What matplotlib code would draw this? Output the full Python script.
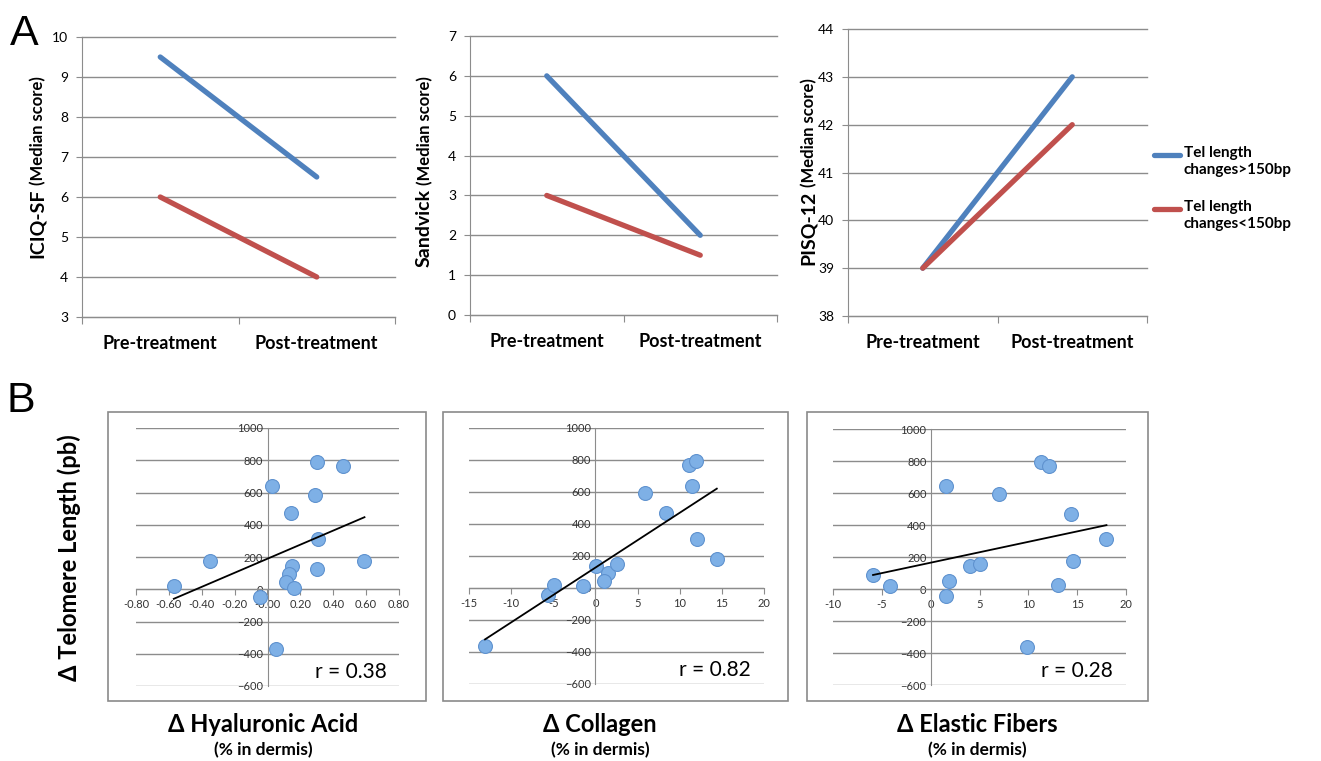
import numpy as np
import matplotlib
matplotlib.use("Agg")
import matplotlib.pyplot as plt
from matplotlib.patches import Rectangle
from matplotlib.lines import Line2D

plt.rcParams["font.family"] = ["Lato", "DejaVu Sans"]

# Panel A data (median scores)
categories = ["Pre-treatment", "Post-treatment"]
iciq_hi = [9.5, 6.5]
iciq_lo = [6.0, 4.0]
sandvick_hi = [6.0, 2.0]
sandvick_lo = [3.0, 1.5]
pisq_hi = [39.0, 43.0]
pisq_lo = [39.0, 42.0]
legend_labels = ["Tel length\nchanges>150bp", "Tel length\nchanges<150bp"]

# Panel B data
ha_x = [-0.57, -0.35, -0.045, 0.03, 0.30, 0.46, 0.29, 0.14, 0.31, 0.59, 0.30, 0.15, 0.13, 0.11, 0.16, 0.05]
ha_y = [20, 177, -51, 641, 787, 762, 585, 472, 310, 177, 127, 144, 94, 45, 5, -368]
col_x = [-13.1, -5.6, -4.9, -1.5, 0.1, 1.5, 1.0, 2.6, 5.9, 8.4, 11.1, 11.9, 11.5, 12.0, 14.4]
col_y = [-361, -42, 21, 10, 136, 94, 46, 152, 595, 470, 766, 793, 637, 307, 184]
ef_x = [-5.9, -4.2, 1.6, 1.9, 1.6, 4.0, 5.0, 7.0, 9.9, 11.3, 12.1, 13.0, 14.4, 14.6, 18.0]
ef_y = [86, 17, -41, 52, 646, 141, 155, 594, -362, 791, 766, 25, 466, 176, 315]
r_values = ["r = 0.38", "r = 0.82", "r = 0.28"]
b_titles = ["\u0394 Hyaluronic Acid", "\u0394 Collagen", "\u0394 Elastic Fibers"]
b_xticks = [np.arange(-0.8, 0.81, 0.2), np.arange(-15, 21, 5), np.arange(-10, 21, 5)]

BLUE = "#4f81bd"
RED = "#c0504d"
GRID = "#8c8c8c"
W, H = 1321, 761

fig = plt.figure(figsize=(13.21, 7.61), dpi=100)


def fx(px):
    return px / W


def fy(py):
    return 1 - py / H


def add_ax(l, t, r, b):
    return fig.add_axes([fx(l), fy(b), fx(r - l), fy(t) - fy(b)])


# ---------- Panel A ----------
def line_panel(ax, hi, lo, ylim):
    xpos = [0.5, 1.5]
    ax.plot(xpos, hi, color=BLUE, lw=3.8, solid_capstyle="round")
    ax.plot(xpos, lo, color=RED, lw=3.8, solid_capstyle="round")
    ax.set_xlim(0, 2)
    ax.set_ylim(*ylim)
    ax.set_yticks(np.arange(ylim[0], ylim[1] + 1, 1))
    ax.yaxis.grid(True, color=GRID, lw=1)
    for gl in ax.get_ygridlines():
        gl.set_clip_on(False)
    ax.set_axisbelow(True)
    for s in ["top", "right"]:
        ax.spines[s].set_visible(False)
    for s in ["left", "bottom"]:
        ax.spines[s].set_color(GRID)
    ax.set_xticks([0, 1, 2])
    ax.set_xticklabels([])
    ax.set_xticks(xpos, minor=True)
    ax.set_xticklabels(categories, minor=True, fontsize=13, fontweight="bold")
    ax.tick_params(axis="x", which="major", length=5, color=GRID, direction="out")
    ax.tick_params(axis="x", which="minor", length=0, pad=13)
    ax.tick_params(axis="y", length=4, color=GRID, labelsize=10, pad=6)


ax1 = add_ax(82, 37, 395, 317)
line_panel(ax1, iciq_hi, iciq_lo, (3, 10))
ax2 = add_ax(470, 36, 777, 315)
line_panel(ax2, sandvick_hi, sandvick_lo, (0, 7))
ax3 = add_ax(848, 29, 1147, 316)
line_panel(ax3, pisq_hi, pisq_lo, (38, 44))


def ylab(main, x, ybottom):
    t = fig.text(fx(x), fy(ybottom), main, rotation=90, ha="center", va="bottom",
                 fontsize=14, fontweight="bold")
    fig.canvas.draw()
    bb = t.get_window_extent()
    ytop = bb.y1 / fig.bbox.height
    fig.text(fx(x + 1), ytop + 0.005, "(Median score)", rotation=90, ha="center",
             va="bottom", fontsize=12, fontweight="bold")


ylab("ICIQ-SF", 37, 258)
ylab("Sandvick", 424, 267)
ylab("PISQ-12", 808, 265)

# legend (manual, handles aligned with first text line)
for col, lab, ly in zip([BLUE, RED], legend_labels, [155, 209]):
    fig.add_artist(Line2D([fx(1154), fx(1180)], [fy(ly), fy(ly)], color=col, lw=3.8,
                          solid_capstyle="round", transform=fig.transFigure))
    fig.text(fx(1184), fy(ly - 9), lab, ha="left", va="top", fontsize=11,
             fontweight="bold", linespacing=1.3)

fig.text(fx(10), fy(45), "A", fontsize=31, family="Liberation Sans", ha="left", va="baseline")
fig.text(fx(6), fy(412), "B", fontsize=31, family="Liberation Sans", ha="left", va="baseline")

# ---------- Panel B ----------
boxes = [(108, 412, 426, 701), (443, 412, 788, 701), (807, 412, 1148, 701)]
areas = [(136, 428, 399, 686), (469, 428, 764, 684), (833, 429, 1126, 685)]
xs = [ha_x, col_x, ef_x]
ys = [ha_y, col_y, ef_y]
fmt = ["{:.2f}", "{:.0f}", "{:.0f}"]
title_cx = [263, 600, 977]

for i in range(3):
    l, t, r, b = boxes[i]
    fig.add_artist(Rectangle((fx(l), fy(b)), fx(r - l), fy(t) - fy(b), fill=False,
                             edgecolor="#8a8a8a", lw=1.2, transform=fig.transFigure))
    ax = add_ax(*areas[i])
    x = np.array(xs[i])
    y = np.array(ys[i])
    ax.scatter(x, y, s=100, color="#7eb0e6", edgecolor="#5f92cf", lw=0.8, zorder=3,
               clip_on=False)
    k, c = np.polyfit(x, y, 1)
    xx = np.array([x.min(), x.max()])
    ax.plot(xx, k * xx + c, color="black", lw=1.3, zorder=4)
    ticks = b_xticks[i]
    ax.set_xlim(ticks[0], ticks[-1])
    ax.set_ylim(-600, 1000)
    ax.set_xticks(ticks)
    ax.set_xticklabels([fmt[i].format(v) for v in ticks])
    ax.set_yticks(np.arange(-600, 1001, 200))
    ax.yaxis.grid(True, color=GRID, lw=1)
    for gl in ax.get_ygridlines():
        gl.set_clip_on(False)
    ax.set_axisbelow(True)
    for s in ["top", "right"]:
        ax.spines[s].set_visible(False)
    ax.spines["left"].set_position(("data", 0))
    ax.spines["bottom"].set_position(("data", 0))
    ax.spines["left"].set_color(GRID)
    ax.spines["bottom"].set_color(GRID)
    ax.tick_params(axis="x", length=4, color=GRID, labelsize=8, pad=3, labelcolor="#333333")
    ax.tick_params(axis="y", length=0, labelsize=8, pad=3, labelcolor="#333333")
    ax.text(0.955, 0.03, r_values[i], transform=ax.transAxes, ha="right", va="baseline",
            fontsize=15)
    fig.text(fx(title_cx[i]), fy(725), b_titles[i], ha="center", va="center",
             fontsize=17, fontweight="bold")
    fig.text(fx(title_cx[i]), fy(750), "(% in dermis)", ha="center", va="center",
             fontsize=12.5, fontweight="bold")

fig.text(fx(69), fy(558), "\u0394 Telomere Length (pb)", rotation=90, ha="center",
         va="center", fontsize=17, fontweight="bold")

fig.savefig("out.png", dpi=100)
